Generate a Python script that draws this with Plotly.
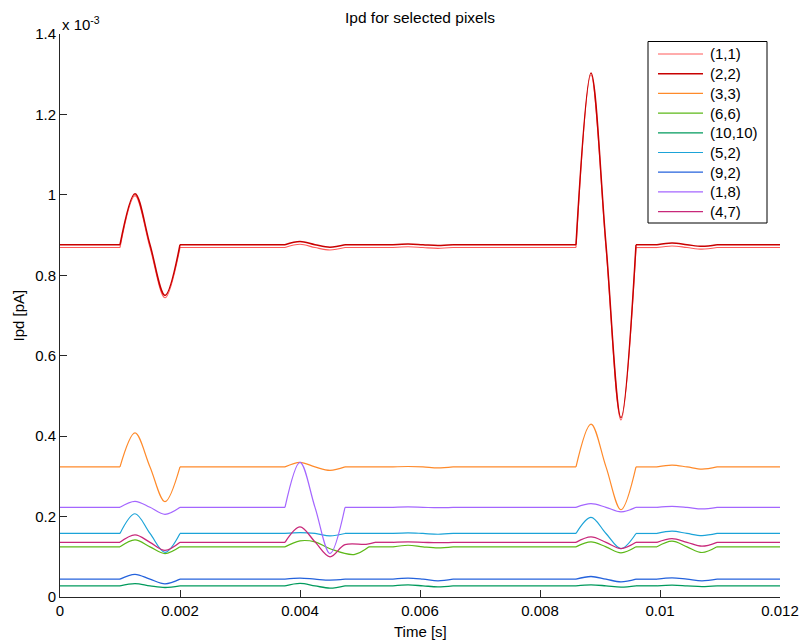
import plotly.graph_objects as go

# Pixel labels, colours and flat (baseline) photodiode current, in units of 1e-3 pA
SERIES = ["(1,1)", "(2,2)", "(3,3)", "(6,6)", "(10,10)", "(5,2)", "(9,2)", "(1,8)", "(4,7)"]
COLORS = ["#ff5a5a", "#c80000", "#ff8a2a", "#5cb818", "#009a5c", "#1ba3d8", "#2462dc", "#a466ff", "#c8287a"]
WIDTHS = [1.1, 1.5, 1.2, 1.2, 1.3, 1.2, 1.3, 1.2, 1.3]
BASELINE = [0.869, 0.876, 0.3235, 0.1247, 0.0278, 0.158, 0.0443, 0.223, 0.136]

# Pulse windows (start, end) in seconds
EVENTS = [(0.0010, 0.0020), (0.00375, 0.00475), (0.00555, 0.00655), (0.0086, 0.0096), (0.00995, 0.01095)]

# Peak (first quarter) and trough (third quarter) of each pulse, per pixel
PEAK_1 = [0.998, 1.003, 0.408, 0.142, 0.0335, 0.207, 0.0565, 0.238, 0.1545]
TROUGH_1 = [0.744, 0.750, 0.237, 0.108, 0.0236, 0.111, 0.0328, 0.2057, 0.116]
PEAK_2 = [0.877, 0.884, 0.335, 0.1396, 0.034, 0.160, 0.047, 0.335, 0.1744]
TROUGH_2 = [0.863, 0.870, 0.315, 0.120, 0.022, 0.152, 0.042, 0.108, 0.100]
PEAK_3 = [0.871, 0.878, 0.3245, 0.1287, 0.030, 0.1595, 0.0468, 0.224, 0.137]
TROUGH_3 = [0.867, 0.874, 0.321, 0.122, 0.0253, 0.156, 0.0402, 0.222, 0.135]
PEAK_4 = [1.298, 1.303, 0.430, 0.137, 0.0303, 0.198, 0.051, 0.232, 0.1496]
TROUGH_4 = [0.440, 0.446, 0.217, 0.1098, 0.0244, 0.1205, 0.0378, 0.2117, 0.1205]
PEAK_5 = [0.873, 0.880, 0.328, 0.1387, 0.0294, 0.1636, 0.0477, 0.2256, 0.1453]
TROUGH_5 = [0.865, 0.872, 0.318, 0.1106, 0.026, 0.1528, 0.0402, 0.219, 0.1263]

# Second pulse of (6,6) and (4,7) has a longer tail
GREEN_P2_T = [0.00375, 0.0040, 0.00425, 0.0045, 0.0049, 0.00515]
GREEN_P2_Y = [0.1247, 0.1396, 0.137, 0.120, 0.1056, 0.1247]
MAGENTA_P2_T = [0.00375, 0.0040, 0.00425, 0.0045, 0.00475, 0.0051, 0.00525]
MAGENTA_P2_Y = [0.136, 0.1744, 0.137, 0.100, 0.130, 0.131, 0.136]

T_END = 0.012
PEAKS = [PEAK_1, PEAK_2, PEAK_3, PEAK_4, PEAK_5]
TROUGHS = [TROUGH_1, TROUGH_2, TROUGH_3, TROUGH_4, TROUGH_5]
OVERRIDES = {("(6,6)", 1): (GREEN_P2_T, GREEN_P2_Y), ("(4,7)", 1): (MAGENTA_P2_T, MAGENTA_P2_Y)}


def pieces_for(i):
    """Keypoint pieces of one pixel trace: flat runs and smooth pulses."""
    name, base = SERIES[i], BASELINE[i]
    pieces = []
    t_prev, y_prev = 0.0, base
    for k, (t0, t1) in enumerate(EVENTS):
        if (name, k) in OVERRIDES:
            ts, ys = OVERRIDES[(name, k)]
        else:
            q = (t1 - t0) / 4
            ts = [t0, t0 + q, t0 + 2 * q, t0 + 3 * q, t1]
            ys = [base, PEAKS[k][i], base, TROUGHS[k][i], base]
        pieces.append(([t_prev, ts[0]], [y_prev, ys[0]]))
        pieces.append((list(ts), list(ys)))
        t_prev, y_prev = ts[-1], ys[-1]
    pieces.append(([t_prev, T_END], [y_prev, base]))
    return pieces


fig = go.Figure()
for i, name in enumerate(SERIES):
    xs, ys = [], []
    for pt, py in pieces_for(i):
        if xs:
            xs.append(None)
            ys.append(None)
        xs.extend(pt)
        ys.extend(py)
    fig.add_trace(go.Scatter(
        x=xs, y=ys, name=name, mode="lines", connectgaps=False, showlegend=False,
        line=dict(color=COLORS[i], width=WIDTHS[i], shape="spline", smoothing=1.0),
    ))

# Figure geometry (pixels)
W, H = 799, 643
ML, MR, MT, MB = 60, 19, 34, 46
PW, PH = W - ML - MR, H - MT - MB


def px_x(p):
    return (p - ML) / PW


def px_y(p):
    return (H - MB - p) / PH


# Boxed legend in the upper right corner
shapes = [dict(type="rect", xref="paper", yref="paper",
               x0=px_x(648), x1=px_x(767), y0=px_y(223), y1=px_y(41.5),
               line=dict(color="#000000", width=1), fillcolor="white", layer="above")]
legend_text = []
for k, name in enumerate(SERIES):
    yc = 54 + 19.7 * k
    shapes.append(dict(type="line", xref="paper", yref="paper",
                       x0=px_x(658), x1=px_x(703), y0=px_y(yc), y1=px_y(yc),
                       line=dict(color=COLORS[k], width=WIDTHS[k]), layer="above"))
    legend_text.append(dict(text=name, xref="paper", yref="paper", x=px_x(708), y=px_y(yc),
                            xanchor="left", yanchor="middle", showarrow=False, font=dict(size=15)))

FONT = "Liberation Sans, Arial, Helvetica, sans-serif"
AXIS_COLOR = "#262626"
x_ticks = [0, 0.002, 0.004, 0.006, 0.008, 0.010, 0.012]
x_text = ["0", "0.002", "0.004", "0.006", "0.008", "0.01", "0.012"]
y_ticks = [0, 0.2, 0.4, 0.6, 0.8, 1.0, 1.2, 1.4]
y_text = ["0", "0.2", "0.4", "0.6", "0.8", "1", "1.2", "1.4"]

fig.update_layout(
    width=W, height=H,
    margin=dict(l=ML, r=MR, t=MT, b=MB, autoexpand=False),
    paper_bgcolor="white", plot_bgcolor="white",
    font=dict(family=FONT, size=15, color="#000000"),
    showlegend=False,
    xaxis=dict(
        range=[0, T_END], showgrid=False, zeroline=False, automargin=False,
        showline=True, linecolor=AXIS_COLOR, linewidth=1,
        ticks="inside", ticklen=7, tickcolor=AXIS_COLOR,
        tickvals=x_ticks, ticktext=x_text, ticklabeloverflow="allow",
    ),
    yaxis=dict(
        range=[0, 1.4], showgrid=False, zeroline=False, automargin=False,
        showline=True, linecolor=AXIS_COLOR, linewidth=1,
        ticks="inside", ticklen=7, tickcolor=AXIS_COLOR,
        tickvals=y_ticks, ticktext=y_text, ticklabeloverflow="allow",
    ),
    shapes=shapes,
    annotations=[
        dict(text="Ipd for selected pixels", xref="paper", yref="paper", x=0.5, y=1.0,
             yshift=17, xanchor="center", yanchor="middle", showarrow=False, font=dict(size=15.5)),
        dict(text="x 10<sup>-3</sup>", xref="paper", yref="paper", x=0.0, y=1.0,
             yshift=-1, xanchor="left", yanchor="bottom", showarrow=False, font=dict(size=15)),
        dict(text="Time [s]", xref="paper", yref="paper", x=0.5, y=0.0,
             yshift=-34, xanchor="center", yanchor="middle", showarrow=False, font=dict(size=15)),
        dict(text="Ipd [pA]", xref="paper", yref="paper", x=0.0, y=0.5, xshift=-42,
             textangle=-90, xanchor="center", yanchor="middle", showarrow=False, font=dict(size=15)),
    ] + legend_text,
)

fig.write_html("out.html")
